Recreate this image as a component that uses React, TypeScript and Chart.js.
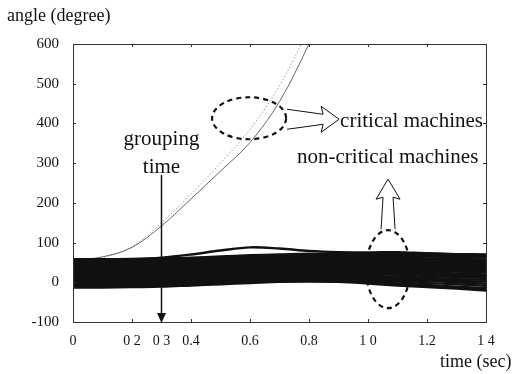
import React, { useEffect, useRef } from "react";
import { Chart, registerables } from "chart.js";

Chart.register(...registerables);

// ---------- data ----------
const T = [0, 0.1, 0.2, 0.3, 0.4, 0.5, 0.6, 0.7, 0.8, 0.9, 1.0, 1.1, 1.2, 1.3, 1.4];

const X_TICK_VALUES = [0, 0.2, 0.3, 0.4, 0.6, 0.8, 1.0, 1.2, 1.4];
const X_TICK_LABELS = ["0", "0 2", "0 3", "0.4", "0.6", "0.8", "1 0", "1.2", "1 4"];
const X_MARKS = [0, 0.2, 0.4, 0.6, 0.8, 1.0, 1.2, 1.4];
const Y_MARKS = [-100, 0, 100, 200, 300, 400, 500, 600];

// critical machines
const CRIT_T = [0, 0.1, 0.2, 0.3, 0.4, 0.5, 0.6, 0.7, 0.8, 0.9];
const CRITICAL_A = [56, 64, 88, 142, 210, 280, 352, 455, 600, 760];
const CRITICAL_B = [54, 62, 90, 150, 222, 300, 385, 495, 640, 800];

// non-critical machines (angles, degree)
const M01 = [55, 56, 58, 62, 70, 80, 88, 85, 79, 76, 75, 76, 73, 71, 70];
const M02 = [58, 58, 59, 60, 62, 65, 68, 70, 72, 72, 73, 73, 72, 70, 68];
const M03 = [54, 55, 56, 58, 60, 63, 66, 68, 70, 71, 71, 70, 69, 67, 65];
const M04 = [50, 51, 52, 54, 57, 60, 63, 65, 66, 67, 67, 66, 65, 63, 62];
const M05 = [47, 47, 48, 50, 53, 56, 59, 61, 63, 63, 63, 62, 60, 59, 57];
const M06 = [43, 44, 45, 47, 49, 52, 55, 58, 60, 61, 60, 59, 57, 55, 53];
const M07 = [40, 40, 41, 43, 46, 49, 52, 55, 57, 57, 56, 55, 53, 51, 49];
const M08 = [36, 37, 38, 40, 43, 46, 49, 51, 53, 53, 52, 51, 49, 47, 45];
const M09 = [33, 33, 34, 36, 39, 42, 45, 48, 49, 49, 48, 47, 45, 43, 41];
const M10 = [29, 30, 31, 33, 35, 38, 42, 44, 45, 45, 44, 43, 41, 39, 37];
const M11 = [26, 26, 27, 29, 32, 35, 38, 41, 42, 42, 41, 39, 37, 35, 33];
const M12 = [22, 23, 24, 26, 29, 32, 35, 37, 38, 38, 37, 35, 33, 31, 29];
const M13 = [19, 19, 20, 22, 25, 28, 31, 34, 35, 35, 33, 31, 29, 27, 25];
const M14 = [15, 16, 17, 19, 22, 25, 28, 30, 31, 31, 29, 27, 25, 22, 20];
const M15 = [12, 12, 13, 15, 18, 21, 24, 27, 28, 27, 25, 23, 20, 18, 16];
const M16 = [8, 9, 10, 12, 15, 18, 21, 23, 24, 23, 21, 19, 16, 13, 11];
const M17 = [5, 5, 6, 8, 10, 13, 16, 19, 20, 19, 17, 14, 11, 8, 6];
const M18 = [1, 2, 3, 4, 7, 10, 13, 15, 16, 15, 13, 10, 7, 4, 1];
const M19 = [-2, -2, -1, 1, 4, 7, 10, 12, 12, 11, 9, 6, 3, 0, -4];
const M20 = [-6, -5, -4, -3, 0, 3, 6, 8, 9, 8, 5, 2, -2, -5, -9];
const M21 = [-9, -9, -8, -7, -4, -1, 2, 5, 5, 4, 1, -3, -7, -11, -15];
const M22 = [-13, -13, -12, -11, -8, -5, -2, 1, 2, 1, -3, -8, -12, -16, -21];
const M23 = [5, 6, 7, 9, 12, 15, 18, 20, 18, 14, 8, -5, -10, -14, -18];
const M24 = [-10, -8, -5, 0, 5, 8, 12, 15, 18, 20, 22, 24, 22, 18, 14];

const NON_CRITICAL = [M01, M02, M03, M04, M05, M06, M07, M08, M09, M10, M11, M12,
  M13, M14, M15, M16, M17, M18, M19, M20, M21, M22, M23, M24];

// ---------- styles ----------
const SERIF = "'Liberation Serif', 'Times New Roman', serif";
const INK = "#111";

const annotate = {
  id: "annotate",
  afterDatasetsDraw(chart: any) {
    const { ctx, chartArea: ca, scales } = chart;
    const xs = scales.x;
    const ys = scales.y;
    const px = (v: number) => xs.getPixelForValue(v);
    const py = (v: number) => ys.getPixelForValue(v);
    ctx.save();

    // frame
    ctx.strokeStyle = "#333";
    ctx.lineWidth = 1;
    ctx.strokeRect(ca.left + 0.5, ca.top + 0.5, ca.right - ca.left, ca.bottom - ca.top);

    // inner tick marks on all sides
    ctx.beginPath();
    X_MARKS.forEach((v) => {
      const x = Math.round(px(v)) + 0.5;
      ctx.moveTo(x, ca.bottom);
      ctx.lineTo(x, ca.bottom - 3);
      ctx.moveTo(x, ca.top);
      ctx.lineTo(x, ca.top + 3);
    });
    Y_MARKS.forEach((v) => {
      const y = Math.round(py(v)) + 0.5;
      ctx.moveTo(ca.left, y);
      ctx.lineTo(ca.left + 3, y);
      ctx.moveTo(ca.right, y);
      ctx.lineTo(ca.right - 3, y);
    });
    ctx.stroke();

    // grouping time arrow
    const gx = px(0.3);
    ctx.strokeStyle = INK;
    ctx.fillStyle = INK;
    ctx.lineWidth = 1.5;
    ctx.beginPath();
    ctx.moveTo(gx, 175);
    ctx.lineTo(gx, ca.bottom - 8);
    ctx.stroke();
    ctx.beginPath();
    ctx.moveTo(gx - 4.5, ca.bottom - 9);
    ctx.lineTo(gx + 4.5, ca.bottom - 9);
    ctx.lineTo(gx, ca.bottom + 1);
    ctx.closePath();
    ctx.fill();

    // dashed ellipses
    ctx.setLineDash([5, 4]);
    ctx.lineWidth = 2.2;
    ctx.beginPath();
    ctx.ellipse(px(0.597), py(413), 37, 21, 0, 0, Math.PI * 2);
    ctx.stroke();
    ctx.beginPath();
    ctx.ellipse(px(1.068), py(33), 22, 39, 0, 0, Math.PI * 2);
    ctx.stroke();
    ctx.setLineDash([]);

    // hollow arrow -> critical machines
    ctx.lineWidth = 1;
    const ay = py(413) + 1;
    const ax0 = px(0.597) + 38;
    const ab = ax0 + 36;
    const at = ab + 16;
    ctx.beginPath();
    ctx.moveTo(ax0, ay - 10);
    ctx.lineTo(ab, ay - 5);
    ctx.lineTo(ab - 2, ay - 13);
    ctx.lineTo(at, ay);
    ctx.lineTo(ab - 2, ay + 13);
    ctx.lineTo(ab, ay + 5);
    ctx.lineTo(ax0, ay + 10);
    ctx.stroke();

    // hollow up arrow <- non-critical ellipse
    const ux = px(1.068);
    const uy0 = py(33) - 40;
    const ub = uy0 - 32;
    const ut = ub - 18;
    ctx.beginPath();
    ctx.moveTo(ux - 7, uy0);
    ctx.lineTo(ux - 5, ub);
    ctx.lineTo(ux - 12, ub + 2);
    ctx.lineTo(ux, ut);
    ctx.lineTo(ux + 12, ub + 2);
    ctx.lineTo(ux + 5, ub);
    ctx.lineTo(ux + 7, uy0);
    ctx.stroke();

    // texts
    ctx.fillStyle = INK;
    ctx.textBaseline = "alphabetic";
    ctx.font = `21px ${SERIF}`;
    ctx.textAlign = "center";
    ctx.fillText("grouping", gx, 145);
    ctx.fillText("time", gx, 173);
    ctx.textAlign = "left";
    ctx.fillText("critical machines", at + 1, 127);
    ctx.fillText("non-critical machines", 297, 163);
    ctx.font = `18px ${SERIF}`;
    ctx.fillText("angle (degree)", 7, 21);
    ctx.fillText("time (sec)", 440, 367);
    ctx.restore();
  },
};

export default function App() {
  const ref = useRef<HTMLCanvasElement | null>(null);

  useEffect(() => {
    if (!ref.current) return;
    const toPts = (xs: number[], ys: number[]) => xs.map((x, i) => ({ x, y: ys[i] }));
    const datasets: any[] = NON_CRITICAL.map((arr, i) => ({
      label: `machine ${i + 1}`,
      data: toPts(T, arr),
      borderColor: INK,
      borderWidth: 2.4,
      pointRadius: 0,
      tension: 0.35,
    }));
    datasets.push({
      label: "critical A",
      data: toPts(CRIT_T, CRITICAL_A),
      borderColor: "#666",
      borderWidth: 1,
      pointRadius: 0,
      tension: 0.35,
    });
    datasets.push({
      label: "critical B",
      data: toPts(CRIT_T, CRITICAL_B),
      borderColor: "#999",
      borderWidth: 1,
      borderDash: [1.5, 2],
      pointRadius: 0,
      tension: 0.35,
    });

    const chart = new Chart(ref.current, {
      type: "line",
      data: { datasets },
      options: {
        animation: false,
        responsive: false,
        layout: { padding: { top: 44, right: 26, left: 0, bottom: 0 } },
        plugins: { legend: { display: false }, tooltip: { enabled: false } },
        scales: {
          x: {
            type: "linear",
            min: 0,
            max: 1.4,
            afterBuildTicks: (s: any) => {
              s.ticks = X_TICK_VALUES.map((v) => ({ value: v }));
            },
            afterFit: (s: any) => {
              s.height = 52;
            },
            ticks: {
              autoSkip: false,
              maxRotation: 0,
              padding: 11,
              color: INK,
              font: { family: SERIF, size: 14 },
              callback: (_v: any, i: number) => X_TICK_LABELS[i],
            },
            grid: { display: false, drawTicks: false },
            border: { display: false },
          },
          y: {
            type: "linear",
            min: -100,
            max: 600,
            afterFit: (s: any) => {
              s.width = 73;
            },
            ticks: {
              stepSize: 100,
              padding: 14,
              color: INK,
              font: { family: SERIF, size: 15 },
              callback: (v: any) => String(v),
            },
            grid: { display: false, drawTicks: false },
            border: { display: false },
          },
        },
      },
      plugins: [annotate],
    });
    return () => chart.destroy();
  }, []);

  return (
    <div style={{ position: "fixed", left: 0, top: 0, width: 512, height: 374, background: "#fff" }}>
      <canvas ref={ref} width={512} height={374} style={{ display: "block" }} />
    </div>
  );
}
